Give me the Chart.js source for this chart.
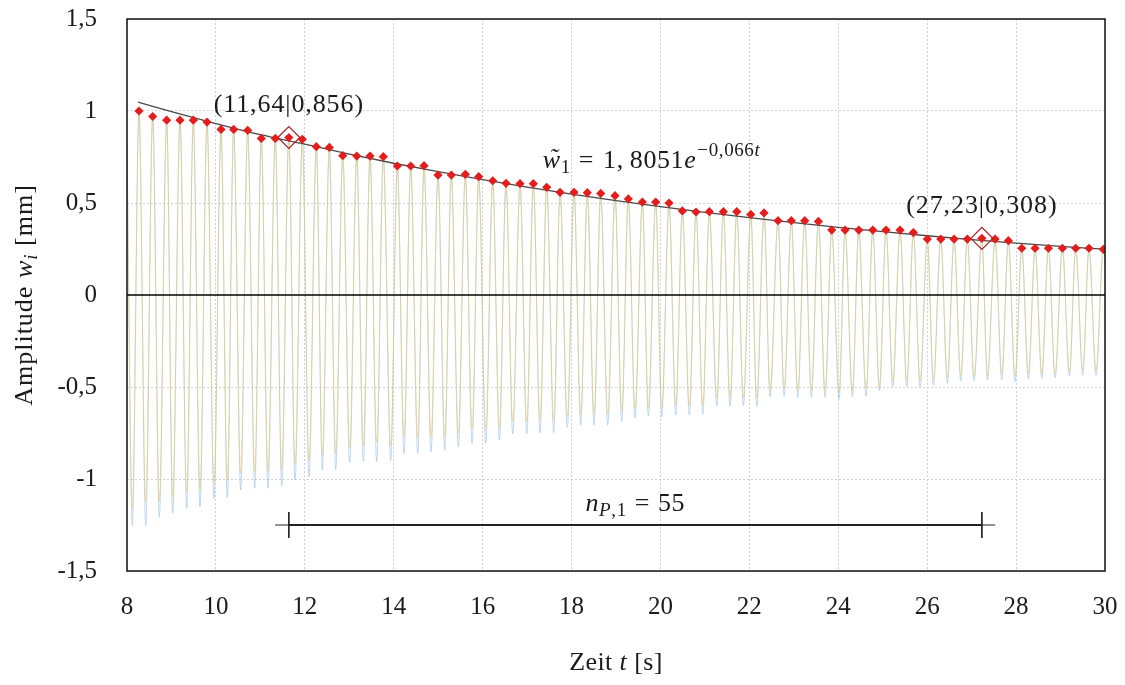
<!DOCTYPE html>
<html>
<head>
<meta charset="utf-8">
<script src="https://cdn.jsdelivr.net/npm/chart.js@4.4.1/dist/chart.umd.min.js"></script>
<style>
  html, body { margin: 0; padding: 0; background: #fff; }
  #wrap { width: 1125px; height: 685px; }
</style>
</head>
<body>
<div id="wrap"><canvas id="c" width="1125" height="685"></canvas></div>
<script>
// ---- axes ----
const xTickValues = [8, 10, 12, 14, 16, 18, 20, 22, 24, 26, 28, 30];
const yTickValues = [-1.5, -1, -0.5, 0, 0.5, 1, 1.5];
const yTickLabels = ['-1,5', '-1', '-0,5', '0', '0,5', '1', '1,5'];

// ---- oscillation maxima (red diamonds) ----
const peakTimes = [
  8.27, 8.578, 8.893, 9.192, 9.492, 9.80, 10.115, 10.40, 10.715, 11.021,
  11.336, 11.64, 11.944, 12.259, 12.551, 12.853, 13.168, 13.467, 13.766, 14.081,
  14.382, 14.682, 14.997, 15.296, 15.611, 15.912, 16.227, 16.526, 16.841, 17.141,
  17.442, 17.741, 18.056, 18.355, 18.657, 18.978, 19.278, 19.593, 19.894, 20.193,
  20.493, 20.801, 21.10, 21.415, 21.717, 22.032, 22.33, 22.645, 22.945, 23.246,
  23.553, 23.853, 24.153, 24.461, 24.776, 25.075, 25.39, 25.69, 26.004, 26.306,
  26.605, 26.904, 27.23, 27.528, 27.827, 28.128, 28.427, 28.727, 29.042, 29.341,
  29.64, 29.962
];
const peakValues = [
  1.0, 0.97, 0.95, 0.95, 0.95, 0.94, 0.90, 0.90, 0.895, 0.851,
  0.851, 0.856, 0.846, 0.806, 0.802, 0.757, 0.755, 0.755, 0.752, 0.701,
  0.701, 0.703, 0.652, 0.652, 0.656, 0.643, 0.621, 0.607, 0.605, 0.605,
  0.585, 0.558, 0.558, 0.556, 0.552, 0.54, 0.522, 0.505, 0.505, 0.50,
  0.457, 0.451, 0.453, 0.453, 0.453, 0.438, 0.446, 0.404, 0.404, 0.404,
  0.40, 0.353, 0.353, 0.353, 0.353, 0.353, 0.353, 0.339, 0.304, 0.304,
  0.304, 0.304, 0.308, 0.304, 0.295, 0.254, 0.254, 0.254, 0.254, 0.254,
  0.254, 0.248
];

// ---- oscillation minima ----
const troughTimes = [
  8.119, 8.421, 8.727, 9.028, 9.343, 9.642, 9.957, 10.256, 10.558, 10.873,
  11.172, 11.48, 11.78, 12.094, 12.394, 12.695, 13.01, 13.316, 13.618, 13.932,
  14.232, 14.54, 14.839, 15.147, 15.453, 15.762, 16.07, 16.376, 16.677, 16.992,
  17.291, 17.599, 17.906, 18.207, 18.506, 18.814, 19.129, 19.429, 19.728, 20.029,
  20.344, 20.65, 20.952, 21.267, 21.566, 21.865, 22.166, 22.466, 22.781, 23.089,
  23.395, 23.703, 24.018, 24.317, 24.625, 24.925, 25.226, 25.541, 25.84, 26.139,
  26.454, 26.756, 27.055, 27.354, 27.678, 27.977, 28.277, 28.578, 28.877, 29.199,
  29.5, 29.799
];
const troughBlue = [
  -1.254, -1.254, -1.205, -1.186, -1.159, -1.15, -1.105, -1.10, -1.06, -1.05,
  -1.05, -1.038, -1.005, -0.987, -0.951, -0.95, -0.91, -0.902, -0.906, -0.90,
  -0.861, -0.861, -0.852, -0.846, -0.824, -0.806, -0.806, -0.788, -0.755, -0.755,
  -0.75, -0.748, -0.719, -0.707, -0.707, -0.707, -0.688, -0.67, -0.658, -0.661,
  -0.652, -0.652, -0.647, -0.603, -0.605, -0.60, -0.607, -0.553, -0.55, -0.556,
  -0.553, -0.556, -0.567, -0.553, -0.549, -0.52, -0.498, -0.498, -0.498, -0.489,
  -0.48, -0.466, -0.466, -0.462, -0.46, -0.471, -0.458, -0.453, -0.45, -0.44,
  -0.435, -0.435
];
const troughYellow = [
  -1.16, -1.12, -1.12, -1.10, -1.07, -1.06, -1.02, -1.01, -0.97, -0.96,
  -0.96, -0.95, -0.92, -0.90, -0.87, -0.86, -0.83, -0.82, -0.80, -0.82,
  -0.77, -0.78, -0.77, -0.77, -0.75, -0.73, -0.73, -0.72, -0.69, -0.69,
  -0.68, -0.68, -0.66, -0.65, -0.65, -0.65, -0.63, -0.62, -0.61, -0.61,
  -0.60, -0.60, -0.60, -0.56, -0.56, -0.56, -0.56, -0.52, -0.51, -0.52,
  -0.52, -0.52, -0.53, -0.52, -0.51, -0.50, -0.47, -0.47, -0.47, -0.46,
  -0.45, -0.44, -0.44, -0.44, -0.43, -0.44, -0.43, -0.43, -0.43, -0.42,
  -0.41, -0.41
];
// signal values at the left and right border of the window [t, w]
const signalStart = [8.0, 0.82];
const signalEnd = [30.0, 0.2];

// ---- exponential envelope fit ----
const fitTimes  = [8.25, 9, 10, 11, 12, 13, 14, 15, 16, 17, 18, 19, 20, 21, 22, 23, 24, 25, 26, 27, 28, 29, 30];
const fitValues = [1.048, 0.997, 0.932, 0.871, 0.820, 0.766, 0.716, 0.670, 0.627, 0.586, 0.548, 0.513, 0.480,
                   0.449, 0.420, 0.393, 0.368, 0.344, 0.322, 0.301, 0.282, 0.264, 0.249];
const fitAmplitude = ['1,', '8051'];
const fitExponent = '\u22120,066';

// ---- marked maxima used for the period count ----
const markTimes  = [11.64, 27.23];
const markValues = [0.856, 0.308];
const periodCount = 55;
const periodLevel = -1.25;
const periodExtent = [11.33, 27.53];

// ---------------------------------------------------------------
const SERIF = "'Liberation Serif', 'Times New Roman', serif";
const INK = '#1b1b1b';

function signalPoints(troughs) {
  const pts = [{ x: signalStart[0], y: signalStart[1] }];
  for (let i = 0; i < peakTimes.length; i++) {
    pts.push({ x: troughTimes[i], y: troughs[i] });
    pts.push({ x: peakTimes[i], y: peakValues[i] });
  }
  pts.push({ x: signalEnd[0], y: signalEnd[1] });
  return pts;
}

const deComma = (v, d) => v.toFixed(d).replace('.', ',');

// draws a run of text pieces (italic / sub / superscript) on one baseline
function drawRich(ctx, parts, x, y, align, spacing) {
  ctx.letterSpacing = (spacing || 0) + 'px';
  let total = 0;
  for (const p of parts) {
    const size = p.size || 26;
    ctx.font = (p.it ? 'italic ' : '') + size + 'px ' + SERIF;
    p._w = ctx.measureText(p.t).width + (p.gap || 0) + (p.pre || 0);
    total += p._w;
  }
  let cx = align === 'center' ? x - total / 2 : x;
  ctx.fillStyle = INK;
  ctx.textBaseline = 'alphabetic';
  ctx.textAlign = 'left';
  for (const p of parts) {
    const size = p.size || 26;
    ctx.font = (p.it ? 'italic ' : '') + size + 'px ' + SERIF;
    ctx.fillText(p.t, cx + (p.pre || 0), y + (p.dy || 0));
    if (p.accent) {
      const w = ctx.measureText(p.t).width;
      ctx.textAlign = 'center';
      ctx.fillText(p.accent, cx + (p.pre || 0) + w / 2 + 2, y + (p.dy || 0) - 2);
      ctx.textAlign = 'left';
    }
    cx += p._w;
  }
  ctx.letterSpacing = '0px';
}

const overlay = {
  id: 'overlay',
  afterDatasetsDraw(chart) {
    const { ctx, chartArea: a, scales: { x, y } } = chart;
    ctx.save();
    // zero line on top of the signals
    ctx.strokeStyle = '#000';
    ctx.lineWidth = 1.6;
    ctx.beginPath();
    const y0 = y.getPixelForValue(0);
    ctx.moveTo(a.left, y0);
    ctx.lineTo(a.right, y0);
    ctx.stroke();
    // frame
    ctx.strokeStyle = '#111';
    ctx.lineWidth = 1.5;
    ctx.strokeRect(a.left, a.top, a.right - a.left, a.bottom - a.top);

    // labels of the marked maxima
    for (let i = 0; i < markTimes.length; i++) {
      const px = x.getPixelForValue(markTimes[i]);
      const py = y.getPixelForValue(markValues[i]);
      drawRich(ctx, [{ t: '(' + deComma(markTimes[i], 2) + '|' + deComma(markValues[i], 3) + ')' }], px, py - 25, 'center', 0.9);
    }

    // fit equation
    drawRich(ctx, [
      { t: 'w', it: true, accent: '\u02DC' },
      { t: '1', size: 19, dy: 5, gap: 8 },
      { t: '=', gap: 9 },
      { t: fitAmplitude[0], gap: 6 },
      { t: fitAmplitude[1] },
      { t: 'e', it: true, gap: 1 },
      { t: fitExponent, size: 19, dy: -12 },
      { t: 't', it: true, size: 19, dy: -12 }
    ], x.getPixelForValue(19.8), y.getPixelForValue(0.69), 'center', 0.6);

    // period count label
    const mid = (markTimes[0] + markTimes[1]) / 2;
    drawRich(ctx, [
      { t: 'n', it: true },
      { t: 'P', it: true, size: 19, dy: 5 },
      { t: ',1', size: 19, dy: 5, gap: 8 },
      { t: '=', gap: 8 },
      { t: String(periodCount) }
    ], x.getPixelForValue(mid), y.getPixelForValue(periodLevel) - 14, 'center', 0.6);

    // axis titles
    drawRich(ctx, [
      { t: 'Zeit ' }, { t: 't', it: true }, { t: ' [s]' }
    ], (a.left + a.right) / 2, 670, 'center', 0.4);

    ctx.translate(32, (a.top + a.bottom) / 2);
    ctx.rotate(-Math.PI / 2);
    drawRich(ctx, [
      { t: 'Amplitude ' }, { t: 'w', it: true }, { t: 'i', it: true, size: 19, dy: 5 }, { t: ' [mm]' }
    ], 0, 0, 'center', 1);
    ctx.restore();
  }
};

const tickFont = { family: SERIF, size: 25 };

new Chart(document.getElementById('c'), {
  type: 'line',
  data: {
    datasets: [
      {
        data: signalPoints(troughBlue),
        borderColor: 'rgba(150,190,230,0.6)', borderWidth: 1,
        pointRadius: 0, cubicInterpolationMode: 'monotone', order: 6
      },
      {
        data: signalPoints(troughYellow),
        borderColor: 'rgba(236,200,100,0.55)', borderWidth: 1,
        pointRadius: 0, cubicInterpolationMode: 'monotone', order: 5
      },
      {
        data: fitTimes.map((t, i) => ({ x: t, y: fitValues[i] })),
        borderColor: '#4a4a4a', borderWidth: 1.3,
        pointRadius: 0, cubicInterpolationMode: 'monotone', order: 3
      },
      {
        data: peakTimes.map((t, i) => ({ x: t, y: peakValues[i] })),
        showLine: false, pointStyle: 'rectRot', pointRadius: 4.6,
        pointBackgroundColor: '#e41c1c', pointBorderWidth: 0, order: 2
      },
      {
        data: markTimes.map((t, i) => ({ x: t, y: markValues[i] })),
        showLine: false, pointStyle: 'rectRot', pointRadius: 11,
        pointBackgroundColor: 'rgba(0,0,0,0)', pointBorderColor: '#b02020', pointBorderWidth: 1.2, order: 1
      },
      // period count bracket
      {
        data: periodExtent.map(t => ({ x: t, y: periodLevel })),
        borderColor: '#222', borderWidth: 1, pointRadius: 0, order: 4
      },
      {
        data: markTimes.map(t => ({ x: t, y: periodLevel })),
        borderColor: '#222', borderWidth: 2, pointRadius: 0, order: 4
      },
      {
        data: [{ x: markTimes[0], y: periodLevel + 0.07 }, { x: markTimes[0], y: periodLevel - 0.07 }],
        borderColor: '#222', borderWidth: 1, pointRadius: 0, order: 4
      },
      {
        data: [{ x: markTimes[1], y: periodLevel + 0.07 }, { x: markTimes[1], y: periodLevel - 0.07 }],
        borderColor: '#222', borderWidth: 1, pointRadius: 0, order: 4
      }
    ]
  },
  options: {
    responsive: false,
    animation: false,
    devicePixelRatio: 1,
    layout: { padding: { left: 0, right: 20, top: 19, bottom: 0 } },
    plugins: { legend: { display: false }, tooltip: { enabled: false } },
    scales: {
      x: {
        type: 'linear', min: 8, max: 30,
        afterBuildTicks: s => { s.ticks = xTickValues.map(v => ({ value: v })); },
        afterFit: s => { s.height = 114; s.paddingLeft = 0; s.paddingRight = 0; },
        ticks: { font: tickFont, color: INK, padding: 21, maxRotation: 0, callback: v => String(v) },
        grid: { color: '#cfcfcf', lineWidth: 1, drawTicks: false },
        border: { display: false, dash: [2, 2] }
      },
      y: {
        type: 'linear', min: -1.5, max: 1.5,
        afterBuildTicks: s => { s.ticks = yTickValues.map(v => ({ value: v })); },
        afterFit: s => { s.width = 127; s.paddingTop = 0; s.paddingBottom = 0; },
        ticks: { font: tickFont, color: INK, padding: 30,
                 callback: v => yTickLabels[yTickValues.indexOf(v)] },
        grid: { color: c => (c.tick && c.tick.value === 0 ? 'rgba(0,0,0,0)' : '#cfcfcf'), lineWidth: 1, drawTicks: false },
        border: { display: false, dash: [2, 2] }
      }
    }
  },
  plugins: [overlay]
});
</script>
</body>
</html>
